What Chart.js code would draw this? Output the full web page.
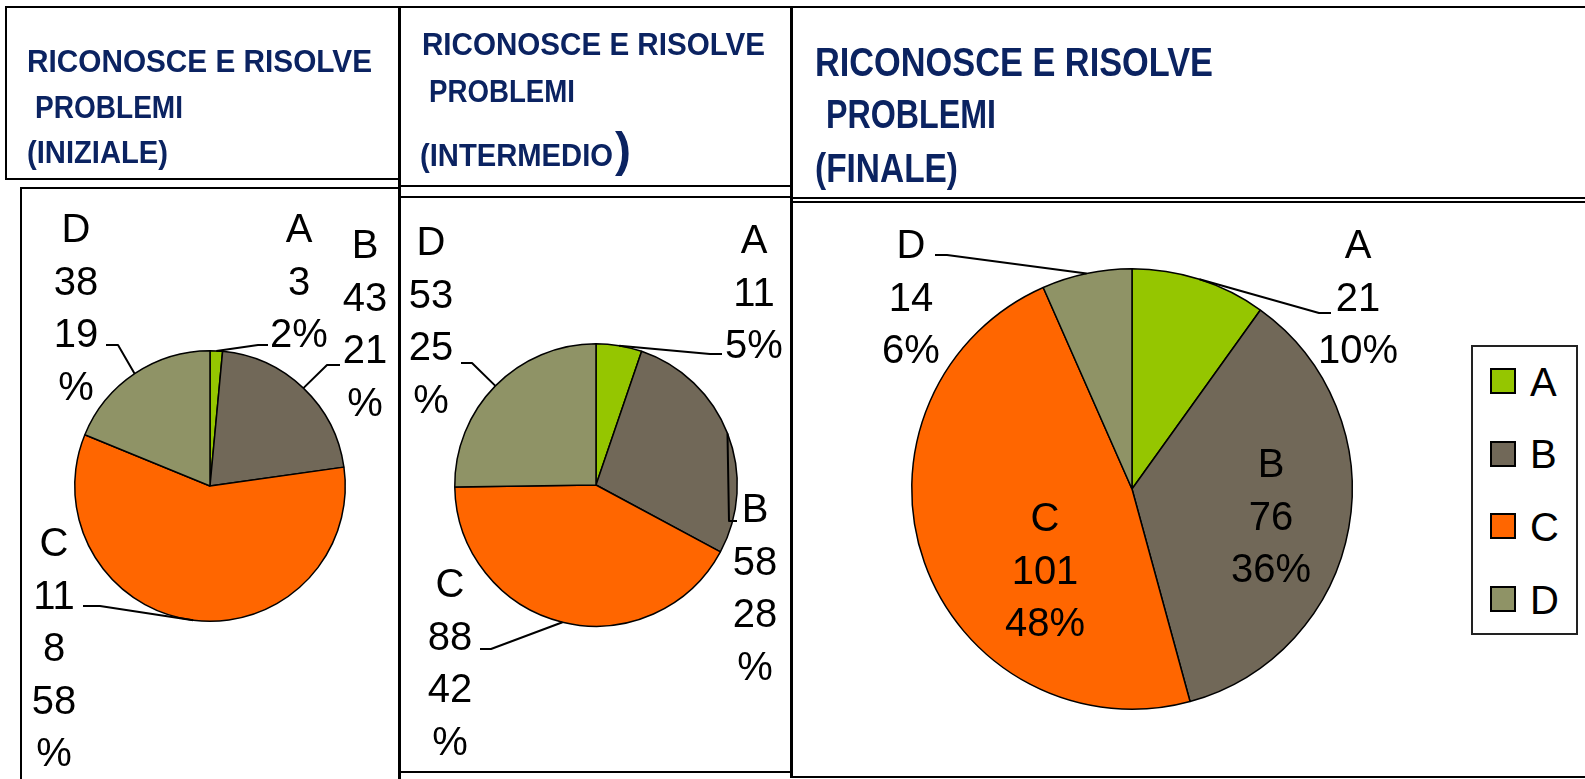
<!DOCTYPE html>
<html><head><meta charset="utf-8">
<script src="https://cdn.jsdelivr.net/npm/chart.js@4/dist/chart.umd.min.js"></script>
<style>
html,body{margin:0;padding:0;background:#fff;}
body{width:1585px;height:779px;overflow:hidden;position:relative;font-family:"Liberation Sans",Arial,sans-serif;}
.ln{position:absolute;background:#000;}
.tt{position:absolute;white-space:pre;color:#0B2361;font-weight:bold;transform-origin:0 0;line-height:1;}
.mk{display:inline-block;width:0;height:0;vertical-align:baseline;}
canvas.pc{position:absolute;left:0;top:0;}
.lgbox{position:absolute;border:2px solid #222;box-sizing:border-box;background:#fff;}
.sw{position:absolute;width:26px;height:26px;box-sizing:border-box;border:2px solid #000;}
.lgt{position:absolute;font-size:40px;line-height:1;color:#000;white-space:pre;}
</style></head><body>
<canvas id="c1" class="pc" width="1585" height="779"></canvas>
<canvas id="c2" class="pc" width="1585" height="779"></canvas>
<canvas id="c3" class="pc" width="1585" height="779"></canvas>
<script>
// ---------- DATA ----------
const categories = ['A', 'B', 'C', 'D'];
const valuesIniziale = [3, 43, 118, 38];
const valuesIntermedio = [11, 58, 88, 53];
const valuesFinale = [21, 76, 101, 14];
const titleIniziale = ['RICONOSCE E RISOLVE', 'PROBLEMI', '(INIZIALE)'];
const titleIntermedio = ['RICONOSCE E RISOLVE', 'PROBLEMI', '(INTERMEDIO', ')'];
const titleFinale = ['RICONOSCE E RISOLVE', 'PROBLEMI', '(FINALE)'];

// ---------- STYLE ----------
const sliceColors = ['#95C600', '#716858', '#FF6600', '#8F9366'];
const W = 1585, H = 779;

// table lines: horizontal [x1,x2,y,t], vertical [x,y1,y2,t]
const hLines = [[5,1585,6,2],[5,399,178,2],[20,399,187,2],[398,792,185,2],[398,792,196,2],[398,792,771,2],[790,1585,197,2],[790,1585,201,2],[790,1585,776,2]];
const vLines = [[5,6,180,2],[20,187,779,2],[398,6,779,3],[790,6,778,3]];
hLines.forEach(l=>{const d=document.createElement('div');d.className='ln';Object.assign(d.style,{left:l[0]+'px',top:l[2]+'px',width:(l[1]-l[0])+'px',height:l[3]+'px'});document.body.appendChild(d);});
vLines.forEach(l=>{const d=document.createElement('div');d.className='ln';Object.assign(d.style,{left:l[0]+'px',top:l[1]+'px',width:l[3]+'px',height:(l[2]-l[1])+'px'});document.body.appendChild(d);});

function placeText(text, cls, size, x, baseline, targetW){
  const el = document.createElement('div');
  el.className = cls;
  el.style.fontSize = size + 'px';
  el.appendChild(document.createTextNode(text));
  const mk = document.createElement('span'); mk.className = 'mk'; el.appendChild(mk);
  el.style.left = x + 'px'; el.style.top = '0px';
  document.body.appendChild(el);
  const b = mk.offsetTop;
  el.style.top = (baseline - b) + 'px';
  if (targetW) { const w = el.getBoundingClientRect().width; el.style.transform = 'scaleX(' + (targetW / w) + ')'; }
  return el;
}
// titles: [x, baseline, width, size]
const titleLayout1 = [[27,72,345,32],[35,118,148,32],[27,163,141,32]];
const titleLayout2 = [[422,55,343,32],[429,102,146,32],[420,166,193,32],[615,166,0,48]];
const titleLayout3 = [[815,76,398,40],[826,128,170,40],[815,182,143,40]];
[[titleIniziale,titleLayout1],[titleIntermedio,titleLayout2],[titleFinale,titleLayout3]].forEach(([t,lay])=>{
  t.forEach((s,i)=>placeText(s,'tt',lay[i][3],lay[i][0],lay[i][1],lay[i][2]));
});

// ---------- helpers ----------
function percents(vals){
  const tot = vals.reduce((a,b)=>a+b,0);
  const raw = vals.map(v=>v*100/tot);
  const fl = raw.map(Math.floor);
  let rem = 100 - fl.reduce((a,b)=>a+b,0);
  const order = raw.map((r,i)=>[r-Math.floor(r),i]).sort((a,b)=>b[0]-a[0]);
  for (let k=0;k<rem;k++) fl[order[k][1]]++;
  return fl;
}
function wrapLines(lines, n){
  const out=[];
  lines.forEach(s=>{ for(let i=0;i<s.length;i+=n) out.push(s.slice(i,i+n)); });
  return out;
}
function labelPlugin(cfg, wrap, lh){
  return {
    id:'pieLabels',
    afterDatasetsDraw(chart){
      const ctx = chart.ctx;
      const meta = chart.getDatasetMeta(0);
      const vals = chart.data.datasets[0].data;
      const pcts = percents(vals);
      ctx.save();
      meta.data.forEach((arc,i)=>{
        const p = arc.getProps(['x','y','startAngle','endAngle','outerRadius'], true);
        const c = cfg[i];
        if (c.leader){
          const m = (p.startAngle + p.endAngle)/2;
          ctx.beginPath();
          ctx.moveTo(p.x + p.outerRadius*Math.cos(m), p.y + p.outerRadius*Math.sin(m));
          c.leader.forEach(q=>ctx.lineTo(p.x+q[0], p.y+q[1]));
          ctx.lineWidth = 2; ctx.strokeStyle = '#000'; ctx.lineJoin='round'; ctx.stroke();
        }
        const lines = wrapLines([chart.data.labels[i], String(vals[i]), pcts[i]+'%'], wrap);
        ctx.font = '40px "Liberation Sans", Arial, sans-serif';
        ctx.textAlign = 'center'; ctx.textBaseline = 'alphabetic'; ctx.fillStyle = '#000';
        lines.forEach((t,k)=>ctx.fillText(t, p.x + c.dx, p.y + c.by + k*lh));
      });
      ctx.restore();
    }
  };
}
function makePie(id, values, g, cfg, wrap, lh){
  return new Chart(document.getElementById(id), {
    type:'pie',
    data:{labels:categories, datasets:[{data:values, backgroundColor:sliceColors, borderColor:'#000', borderWidth:1.5}]},
    options:{
      responsive:false, animation:false, events:[],
      layout:{padding:{left:g.cx-g.r, top:g.cy-g.r, right:W-g.cx-g.r, bottom:H-g.cy-g.r}},
      plugins:{legend:{display:false}, tooltip:{enabled:false}, title:{display:false}}
    },
    plugins:[labelPlugin(cfg, wrap, lh)]
  });
}

// label placement relative to pie centre
const labels1 = [
  {dx:89, by:-244, leader:[[48,-141],[58,-141]]},
  {dx:155, by:-228, leader:[[117,-121],[130,-121]]},
  {dx:-156, by:70, leader:[[-110,120],[-127,120]]},
  {dx:-134, by:-244, leader:[[-92,-141],[-104,-141]]}
];
const labels2 = [
  {dx:158, by:-232, leader:[[114,-131],[126,-131]]},
  {dx:159, by:37, leader:[[133,36],[141,36]]},
  {dx:-146, by:112, leader:[[-105,164],[-116,164]]},
  {dx:-165, by:-230, leader:[[-124,-122],[-135,-122]]}
];
const labels3 = [
  {dx:226, by:-231, leader:[[187,-176],[199,-176]]},
  {dx:139, by:-12, leader:null},
  {dx:-87, by:42, leader:null},
  {dx:-221, by:-231, leader:[[-185,-234],[-197,-234]]}
];

makePie('c1', valuesIniziale, {cx:210, cy:486, r:136}, labels1, 2, 52.5);
makePie('c2', valuesIntermedio, {cx:596, cy:485, r:142}, labels2, 2, 52.5);
makePie('c3', valuesFinale, {cx:1132, cy:489, r:221}, labels3, 10, 52.5);

// legend (final chart)
const lg = document.createElement('div'); lg.className='lgbox';
Object.assign(lg.style,{left:'1471px',top:'345px',width:'107px',height:'290px'});
document.body.appendChild(lg);
categories.forEach((c,i)=>{
  const yc = 381 + i*72.7;
  const s = document.createElement('div'); s.className='sw';
  Object.assign(s.style,{left:'1490px',top:(yc-13)+'px',background:sliceColors[i]});
  document.body.appendChild(s);
  placeText(c,'lgt',40,1530,yc+14.5,0);
});
</script>
</body></html>
